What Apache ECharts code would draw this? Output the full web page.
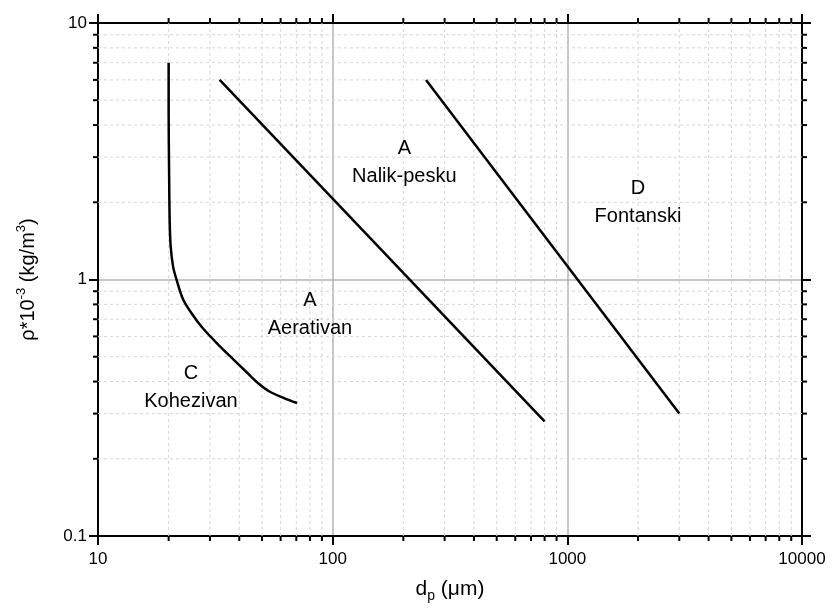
<!DOCTYPE html>
<html>
<head>
<meta charset="utf-8">
<script src="https://cdn.jsdelivr.net/npm/echarts@6/dist/echarts.min.js"></script>
<style>
  html, body { margin: 0; padding: 0; background: #fff; }
  #chart { width: 832px; height: 608px; }
</style>
</head>
<body>
<div id="chart"></div>
<script>
// boundary curves (dp in um, rho*10^-3 in kg/m3)
const cohesiveLine = [[20, 7], [20, 4.5], [20.1, 2.5], [20.2, 1.7], [20.4, 1.35], [20.9, 1.12], [21.6, 1.0],
  [23, 0.84], [25, 0.74], [27.8, 0.65], [33, 0.55], [38, 0.485], [43, 0.435], [48, 0.395], [54, 0.365],
  [62, 0.345], [70.6, 0.33]];
const aeratedLine = [[33, 6], [800, 0.28]];
const spoutLine = [[250, 6], [3000, 0.3]];

// region labels
const regionPos = [[202, 2.87], [2000, 2.0], [80, 0.73], [24.9, 0.38]];
const regionText = ['A\nNalik-pesku', 'D\nFontanski', 'A\nAerativan', 'C\nKohezivan'];

// minor ticks
const xMinor = [20, 30, 40, 50, 60, 70, 80, 90, 200, 300, 400, 500, 600, 700, 800, 900,
  2000, 3000, 4000, 5000, 6000, 7000, 8000, 9000];
const yMinor = [0.2, 0.3, 0.4, 0.5, 0.6, 0.7, 0.8, 0.9, 2, 3, 4, 5, 6, 7, 8, 9];

const FONT = 'Liberation Sans, Arial, sans-serif';
const chart = echarts.init(document.getElementById('chart'));

const axisLine = { show: true, lineStyle: { color: '#000', width: 2 } };
const majorTick = { show: true, length: 9, lineStyle: { color: '#000', width: 2 } };

function minorX(params, api) {
  const cs = params.coordSys;
  const x = api.coord([api.value(0), 1])[0];
  const top = cs.y, bot = cs.y + cs.height;
  return {
    type: 'group',
    children: [
      { type: 'line', shape: { x1: x, y1: top, x2: x, y2: bot },
        style: { stroke: '#d6d6d6', lineWidth: 1, lineDash: [3, 3] } },
      { type: 'line', shape: { x1: x, y1: bot, x2: x, y2: bot + 5 }, style: { stroke: '#000', lineWidth: 2 } },
      { type: 'line', shape: { x1: x, y1: top, x2: x, y2: top - 5 }, style: { stroke: '#000', lineWidth: 2 } }
    ]
  };
}

function minorY(params, api) {
  const cs = params.coordSys;
  const y = api.coord([100, api.value(1)])[1];
  const l = cs.x, r = cs.x + cs.width;
  return {
    type: 'group',
    children: [
      { type: 'line', shape: { x1: l, y1: y, x2: r, y2: y },
        style: { stroke: '#d6d6d6', lineWidth: 1, lineDash: [3, 3] } },
      { type: 'line', shape: { x1: l, y1: y, x2: l - 5, y2: y }, style: { stroke: '#000', lineWidth: 2 } },
      { type: 'line', shape: { x1: r, y1: y, x2: r + 5, y2: y }, style: { stroke: '#000', lineWidth: 2 } }
    ]
  };
}

const curveStyle = { color: '#000', width: 2.5 };
const plainNum = v => String(Math.round(v * 1000) / 1000);

chart.setOption({
  backgroundColor: '#fff',
  animation: false,
  grid: { left: 98, right: 30, top: 23, bottom: 69 },
  xAxis: [
    {
      type: 'log', logBase: 10, min: 10, max: 10000,
      name: '{n|d}{s|p}{n| (μm)}', nameLocation: 'middle', nameGap: 39,
      nameTextStyle: {
        rich: {
          n: { fontFamily: FONT, fontSize: 21, color: '#000' },
          s: { fontFamily: FONT, fontSize: 14, color: '#000', padding: [14, 0, 0, 0] }
        }
      },
      axisLine: axisLine,
      axisTick: majorTick,
      axisLabel: { color: '#000', fontFamily: FONT, fontSize: 17, margin: 15, formatter: plainNum },
      splitLine: { show: true, lineStyle: { color: '#b4b4b4', width: 1.5 } }
    },
    {
      type: 'log', logBase: 10, min: 10, max: 10000, position: 'top',
      axisLine: axisLine, axisTick: majorTick,
      axisLabel: { show: false }, splitLine: { show: false }
    }
  ],
  yAxis: [
    {
      type: 'log', logBase: 10, min: 0.1, max: 10,
      name: '{n|ρ*10}{s|-3}{n| (kg/m}{s|3}{n|)}', nameLocation: 'middle', nameGap: 56,
      nameTextStyle: {
        rich: {
          n: { fontFamily: FONT, fontSize: 20, color: '#000' },
          s: { fontFamily: FONT, fontSize: 13, color: '#000', padding: [0, 0, 14, 0] }
        }
      },
      axisLine: axisLine,
      axisTick: majorTick,
      axisLabel: { color: '#000', fontFamily: FONT, fontSize: 17, margin: 11, formatter: plainNum },
      splitLine: { show: true, lineStyle: { color: '#b4b4b4', width: 1.5 } }
    },
    {
      type: 'log', logBase: 10, min: 0.1, max: 10, position: 'right',
      axisLine: axisLine, axisTick: majorTick,
      axisLabel: { show: false }, splitLine: { show: false }
    }
  ],
  series: [
    {
      type: 'custom', renderItem: minorX, z: 1, silent: true,
      data: xMinor.map(v => [v, 1])
    },
    {
      type: 'custom', renderItem: minorY, z: 1, silent: true,
      data: yMinor.map(v => [100, v])
    },
    {
      type: 'line', data: cohesiveLine, smooth: 0.3, showSymbol: false, z: 5,
      lineStyle: curveStyle
    },
    {
      type: 'line', data: aeratedLine, showSymbol: false, z: 5, lineStyle: curveStyle
    },
    {
      type: 'line', data: spoutLine, showSymbol: false, z: 5, lineStyle: curveStyle
    },
    {
      type: 'scatter', symbolSize: 0, z: 6, silent: true,
      itemStyle: { opacity: 1, color: '#000' },
      data: regionPos.map((p, i) => ({ value: p, name: regionText[i] })),
      label: {
        show: true, position: 'inside', formatter: p => p.name, opacity: 1,
        color: '#000', textBorderWidth: 0, fontFamily: FONT, fontSize: 20, lineHeight: 28, align: 'center'
      }
    }
  ]
});
</script>
</body>
</html>
